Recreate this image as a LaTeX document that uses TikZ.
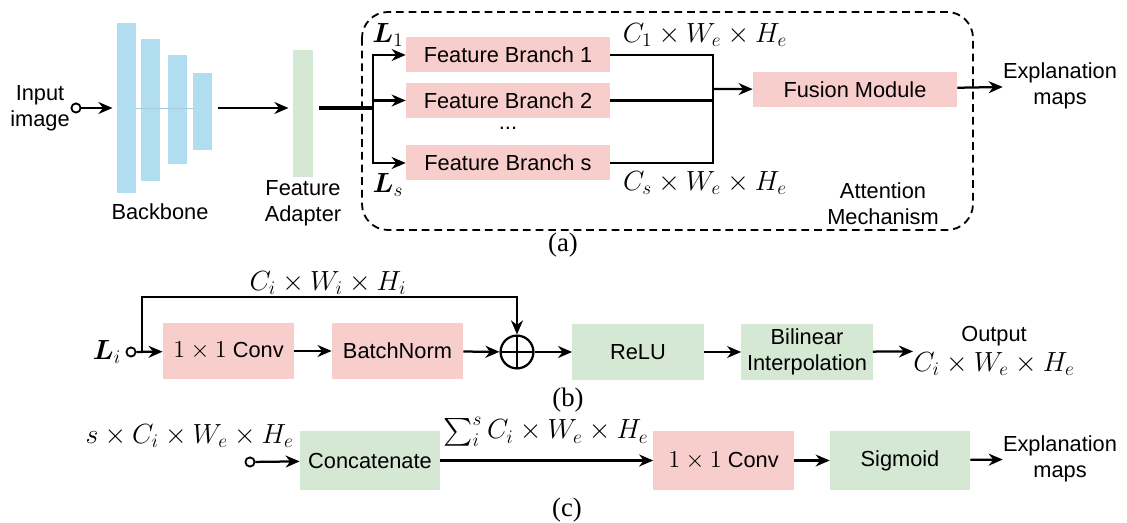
\documentclass[tikz,border=0pt]{standalone}
\usepackage{amsmath}
\usepackage{bm}
\usepackage{fontspec}
\setmainfont{Liberation Sans}
\newfontfamily\capfont{Liberation Serif}
\usetikzlibrary{positioning,arrows.meta}
\definecolor{bbblue}{HTML}{B1DDF0}
\definecolor{adgreen}{HTML}{D5E8D4}
\definecolor{brpink}{HTML}{F8CECC}
\newcommand{\dimlab}[1]{\scalebox{1.14}{$#1$}}

\begin{document}
\begin{tikzpicture}[x=0.025cm,y=-0.025cm,
  font=\fontsize{15.5}{18.5}\selectfont,
  arr/.style={-{Stealth[length=10pt,width=8.5pt]}, line width=1.6pt},
  thk/.style={line width=1.6pt},
  inport/.style={circle, draw, line width=1.3pt, fill=white, inner sep=0pt, minimum size=6.5pt},
  bar/.style={rectangle, fill=bbblue, inner sep=0pt, minimum width=0.475cm},
  branch/.style={rectangle, fill=brpink, inner sep=0pt, minimum width=5.1cm, minimum height=0.875cm},
  blk/.style={rectangle, inner sep=0pt, minimum width=3.28cm, minimum height=1.4cm, align=center},
  blkc/.style={rectangle, inner sep=0pt, minimum width=3.5cm, minimum height=1.45cm},
  mlab/.style={font=\fontsize{17.28}{20}\selectfont, inner sep=0pt},
  sublab/.style={font=\capfont\fontsize{19}{22}\selectfont, inner sep=0pt}]
\useasboundingbox (0,0) rectangle (1127,523);

% (a) overall pipeline
\node [align=center, inner sep=0pt] (input) at (40,108) {Input\\image};
\node [inport] (inA) at (76,108) {};
\node [bar, minimum height=4.25cm] (bb1) at (126.5,108) {};
\node [bar, minimum height=3.55cm] (bb2) at (150.5,110) {};
\node [bar, minimum height=2.725cm] (bb3) at (177.5,109.5) {};
\node [bar, minimum height=1.925cm] (bb4) at (202.5,111.5) {};
\draw [bbblue!80!gray, line width=0.4pt] (bb1.east |- inA) -- (bb4.west |- inA);
\node [inner sep=0pt] (bblab) at (160,212) {Backbone};
\draw [arr, shorten >=3pt] (inA) -- (bb1.west |- inA);

\node [rectangle, fill=adgreen, inner sep=0pt, minimum width=0.5cm, minimum height=3.175cm] (adapt) at (303,113.5) {};
\node [align=center, inner sep=0pt] (adlab) at (303,203) {Feature\\Adapter};
\draw [arr, shorten <=4pt, shorten >=3pt] (bb4.east |- inA) -- (adapt.west |- inA);

\coordinate (split) at (373,108);
\node [branch] (fb1) at (508,55) {Feature Branch 1};
\node [branch] (fb2) at (508,100.5) {Feature Branch 2};
\node [branch] (fbs) at (508,163) {Feature Branch s};
\node [inner sep=0pt] (dots) at (508,128) {...};
\draw [line width=2.2pt, shorten <=4pt] (adapt.east |- inA) -- (split);
\draw [arr] (split) |- (fb1.west);
\draw [arr] (split) |- (fb2.west);
\draw [arr] (split) |- (fbs.west);
\node [mlab] (l1) at (388,35) {\dimlab{\bm{L}_1}};
\node [mlab] (ls) at (388,185) {\dimlab{\bm{L}_s}};

\coordinate (merge) at (713,89);
\node [branch] (fusion) at (855,89.5) {Fusion Module};
\draw [thk] (fb1.east) -| (merge);
\draw [thk] (fbs.east) -| (merge);
\draw [thk] (fb2.east) -- (fb2.east -| merge);
\draw [arr] (merge) -- (fusion);
\node [mlab] (c1lab) at (705,35) {\dimlab{C_1\times W_e\times H_e}};
\node [mlab] (cslab) at (705,183) {\dimlab{C_s\times W_e\times H_e}};
\node [align=center, inner sep=0pt] (attn) at (883,204) {Attention\\Mechanism};
\draw [dashed, dash pattern=on 5.5pt off 3.5pt, line width=1.3pt, rounded corners=0.65cm] (362,12) rectangle (973,230);

\node [align=center, inner sep=0pt] (expA) at (1060,86) {Explanation\\maps};
\draw [arr] (fusion) -- (expA);
\node [sublab] (capa) at (563,245) {(a)};

% (b) feature branch
\node [mlab] (li) at (107,352) {\dimlab{\bm{L}_i}};
\node [inport] (inB) at (131,352) {};
\node [blk, fill=brpink] (conv1) at (228.5,351) {\scalebox{1.2}{$1\times 1$} Conv};
\node [blk, fill=brpink] (bnorm) at (397.5,351) {BatchNorm};
\node [circle, draw, line width=1.6pt, inner sep=0pt, minimum size=0.82cm,
  path picture={\draw [line width=1.6pt] (path picture bounding box.north) -- (path picture bounding box.south)
    (path picture bounding box.west) -- (path picture bounding box.east);}] (plus) at (517,352) {};
\node [blk, fill=adgreen] (relu) at (638,352) {ReLU};
\node [blk, fill=adgreen] (bilin) at (807,352) {Bilinear\\Interpolation};
\node [align=center, inner sep=0pt, anchor=west] (outB) at (913,351) {Output\\[3pt]{\fontsize{17.28}{20}\selectfont\dimlab{C_i\times W_e\times H_e}}};
\coordinate (tap) at (142,352);
\coordinate (top) at (142,297);
\draw [arr] (inB) -- (conv1);
\draw [arr] (tap) -- (top) -| (plus.north);
\draw [arr] (conv1) -- (bnorm);
\draw [arr] (bnorm) -- (plus);
\draw [arr] (plus) -- (relu);
\draw [arr] (relu) -- (bilin);
\draw [arr] (bilin) -- (outB);
\node [mlab] (cilab) at (328,283) {\dimlab{C_i\times W_i\times H_i}};
\node [sublab] (capb) at (568,400) {(b)};

% (c) fusion module
\node [mlab, anchor=east] (inlab) at (294,436) {\dimlab{s\times C_i\times W_e\times H_e}};
\node [inport] (inC) at (250,462) {};
\node [blkc, fill=adgreen] (concat) at (370,460.5) {Concatenate};
\node [blkc, fill=brpink] (conv2) at (723.5,460.5) {\scalebox{1.2}{$1\times 1$} Conv};
\node [blkc, fill=adgreen] (sigm) at (900,460.5) {Sigmoid};
\node [align=center, inner sep=0pt] (expC) at (1060,459) {Explanation\\maps};
\draw [arr] (inC) -- (concat);
\draw [arr] (concat) -- (conv2);
\draw [arr] (conv2) -- (sigm);
\draw [arr] (sigm) -- (expC);
\node [mlab] (sumlab) at (546,432) {\dimlab{\sum_i^s C_i\times W_e\times H_e}};
\node [sublab] (capc) at (567,510) {(c)};
\end{tikzpicture}
\end{document}
